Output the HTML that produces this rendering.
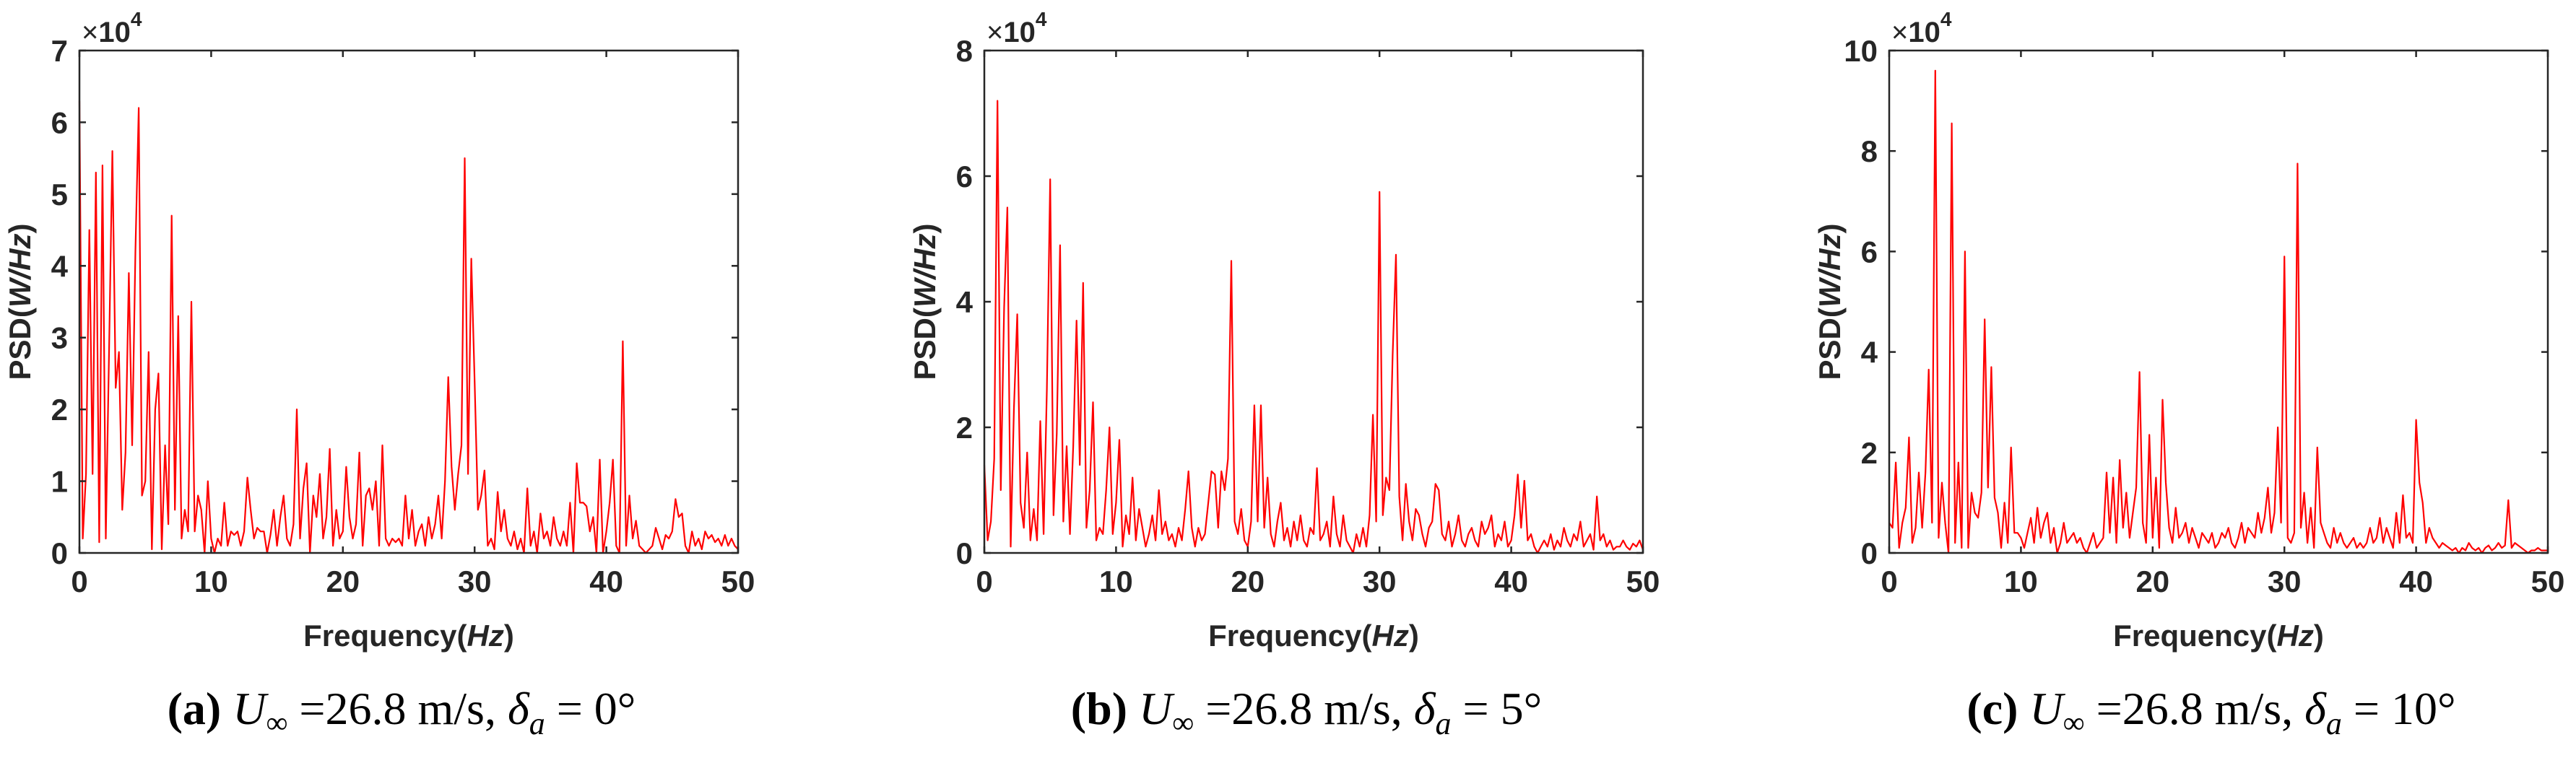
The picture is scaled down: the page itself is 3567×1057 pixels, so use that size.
<!DOCTYPE html>
<html><head><meta charset="utf-8"><style>
html,body{margin:0;padding:0;background:#fff;}
svg{display:block;}
.tk{font-family:"Liberation Sans",Arial,sans-serif;font-weight:bold;font-size:42px;fill:#262626;}
.cap{font-family:"Liberation Serif",serif;font-size:64px;fill:#000;}
</style></head><body>
<svg id="fig" width="3567" height="1057" viewBox="0 0 3567 1057" xmlns="http://www.w3.org/2000/svg"></svg>
<script>
// Data (units of 1e4 W/Hz), frequency step 0.25 Hz from 0 to 50 Hz
const freqStep = 0.25;
const seriesA = [6.3,0.2,1.1,4.5,1.1,5.3,0.15,5.4,0.2,2.8,5.6,2.3,2.8,0.6,1.4,3.9,1.5,4.2,6.2,0.8,1.0,2.8,0.05,2.0,2.5,0.05,1.5,0.4,4.7,0.6,3.3,0.2,0.6,0.3,3.5,0.3,0.8,0.6,0.0,1.0,
0.2,0.0,0.2,0.1,0.7,0.1,0.3,0.25,0.3,0.1,0.3,1.05,0.6,0.2,0.35,0.3,0.3,0.0,0.25,0.6,0.1,0.5,0.8,0.2,0.1,0.4,2.0,0.2,0.9,1.25,0.0,0.8,0.5,1.1,0.2,0.5,1.45,0.1,0.6,0.2,
0.3,1.2,0.5,0.2,0.4,1.4,0.1,0.8,0.9,0.6,1.0,0.1,1.5,0.2,0.1,0.2,0.15,0.2,0.1,0.8,0.2,0.6,0.1,0.3,0.4,0.1,0.5,0.2,0.4,0.8,0.2,1.0,2.45,1.2,0.6,1.1,1.5,5.5,1.1,4.1,
2.4,0.6,0.8,1.15,0.1,0.2,0.05,0.85,0.3,0.6,0.2,0.1,0.3,0.05,0.2,0.0,0.9,0.1,0.3,0.0,0.55,0.2,0.3,0.1,0.5,0.2,0.1,0.3,0.1,0.7,0.0,1.25,0.7,0.7,0.65,0.3,0.5,0.0,1.3,0.0,
0.3,0.7,1.3,0.1,0.0,2.95,0.1,0.8,0.2,0.45,0.1,0.05,0.0,0.05,0.1,0.35,0.2,0.05,0.25,0.2,0.3,0.75,0.5,0.55,0.1,0.0,0.3,0.1,0.2,0.05,0.3,0.2,0.25,0.15,0.2,0.1,0.25,0.1,0.2,0.1,0.05];
const seriesB = [1.4,0.2,0.5,1.5,7.2,1.0,3.9,5.5,0.1,2.3,3.8,0.8,0.4,1.6,0.2,0.7,0.2,2.1,0.3,2.6,5.95,0.6,1.9,4.9,0.5,1.7,0.3,1.7,3.7,1.4,4.3,0.4,1.0,2.4,0.2,0.4,0.3,1.0,2.0,0.3,
0.8,1.8,0.1,0.6,0.3,1.2,0.2,0.7,0.4,0.1,0.3,0.6,0.2,1.0,0.3,0.5,0.2,0.3,0.1,0.4,0.2,0.7,1.3,0.4,0.1,0.4,0.2,0.3,0.8,1.3,1.25,0.4,1.3,1.0,1.5,4.65,0.5,0.3,0.7,0.2,
0.1,0.5,2.35,0.5,2.35,0.4,1.2,0.3,0.1,0.5,0.8,0.2,0.4,0.1,0.5,0.2,0.6,0.2,0.1,0.4,0.3,1.35,0.2,0.3,0.5,0.1,0.9,0.3,0.1,0.6,0.2,0.1,0.0,0.3,0.1,0.4,0.1,0.6,2.2,0.5,
5.75,0.6,1.2,1.0,3.15,4.75,0.9,0.2,1.1,0.5,0.2,0.7,0.6,0.3,0.1,0.4,0.5,1.1,1.0,0.3,0.2,0.5,0.1,0.3,0.6,0.2,0.1,0.3,0.4,0.2,0.1,0.5,0.3,0.4,0.6,0.1,0.3,0.2,0.5,0.1,
0.2,0.6,1.25,0.4,1.15,0.2,0.3,0.1,0.0,0.1,0.2,0.1,0.3,0.05,0.2,0.1,0.4,0.2,0.1,0.3,0.2,0.5,0.1,0.2,0.3,0.05,0.9,0.2,0.3,0.1,0.2,0.05,0.1,0.1,0.2,0.1,0.05,0.15,0.1,0.2,0.05];
const seriesC = [0.6,0.5,1.8,0.1,0.6,0.9,2.3,0.2,0.5,1.6,0.5,1.6,3.65,0.6,9.6,0.3,1.4,0.6,0.0,8.55,0.2,1.8,0.1,6.0,0.1,1.2,0.8,0.7,1.2,4.65,1.3,3.7,1.1,0.8,0.1,1.0,0.2,2.1,0.4,0.4,
0.3,0.1,0.4,0.7,0.2,0.9,0.3,0.6,0.8,0.2,0.5,0.0,0.2,0.6,0.2,0.3,0.4,0.2,0.3,0.1,0.0,0.2,0.4,0.1,0.2,0.3,1.6,0.4,1.5,0.2,1.85,0.5,1.2,0.3,0.8,1.3,3.6,0.6,0.2,2.35,
0.3,1.5,0.1,3.05,1.4,0.5,0.2,0.9,0.3,0.4,0.6,0.2,0.5,0.3,0.1,0.4,0.3,0.2,0.4,0.1,0.2,0.4,0.3,0.5,0.2,0.1,0.3,0.6,0.2,0.5,0.4,0.3,0.8,0.4,0.7,1.3,0.4,0.8,2.5,0.6,
5.9,0.3,0.2,0.4,7.75,0.5,1.2,0.2,0.9,0.1,2.1,0.6,0.4,0.2,0.1,0.5,0.2,0.4,0.2,0.1,0.2,0.3,0.1,0.2,0.1,0.2,0.5,0.2,0.3,0.7,0.2,0.5,0.3,0.1,0.8,0.2,1.15,0.3,0.4,0.2,
2.65,1.4,1.0,0.2,0.5,0.3,0.2,0.1,0.2,0.15,0.1,0.05,0.1,0.0,0.1,0.05,0.2,0.1,0.05,0.1,0.0,0.1,0.15,0.05,0.1,0.2,0.1,0.15,1.05,0.1,0.2,0.15,0.1,0.05,0.0,0.05,0.05,0.1,0.05,0.05,0.05];
const xTicks = [0,10,20,30,40,50];
const yTicksA = [0,1,2,3,4,5,6,7];
const yTicksB = [0,2,4,6,8];
const yTicksC = [0,2,4,6,8,10];
const captionDeg = ["0","5","10"];
const panelLetters = ["a","b","c"];

const NS="http://www.w3.org/2000/svg";
const svg=document.getElementById('fig');
function mk(tag,attrs,parent){const e=document.createElementNS(NS,tag);for(const k in attrs)e.setAttribute(k,attrs[k]);(parent||svg).appendChild(e);return e;}

const panels=[
 {left:110,series:seriesA,yticks:yTicksA,ymax:7},
 {left:1363,series:seriesB,yticks:yTicksB,ymax:8},
 {left:2616,series:seriesC,yticks:yTicksC,ymax:10}
];
const W=912, TOP=70, BOT=766;

panels.forEach((p,pi)=>{
  const g=mk('g',{});
  
  
  const xs=f=>p.left+f/50*W;
  const ys=v=>BOT-v/p.ymax*(BOT-TOP);
  let d='';
  p.series.forEach((v,i)=>{d+=(i?'L':'M')+xs(i*freqStep).toFixed(1)+','+ys(v).toFixed(1);});
  const line=mk('path',{d:d,fill:'none',stroke:'#ff0000','stroke-width':2.2,'stroke-linejoin':'round'},g);
  
  
  const box=mk('rect',{x:p.left,y:TOP,width:W,height:BOT-TOP,fill:'none',stroke:'#262626','stroke-width':2.5},g);
  
  
  xTicks.forEach(t=>{
    const x=xs(t);
    mk('line',{x1:x,y1:BOT,x2:x,y2:BOT-9,stroke:'#262626','stroke-width':2.5},g);
    mk('line',{x1:x,y1:TOP,x2:x,y2:TOP+9,stroke:'#262626','stroke-width':2.5},g);
    const tx=mk('text',{x:x,y:820,'text-anchor':'middle',class:'tk'},g);
    tx.textContent=t;
    
    
  });
  p.yticks.forEach(t=>{
    const y=ys(t);
    mk('line',{x1:p.left,y1:y,x2:p.left+9,y2:y,stroke:'#262626','stroke-width':2.5},g);
    mk('line',{x1:p.left+W,y1:y,x2:p.left+W-9,y2:y,stroke:'#262626','stroke-width':2.5},g);
    const ty=mk('text',{x:p.left-16,y:y+15,'text-anchor':'end',class:'tk'},g);
    ty.textContent=t;
    
    
  });
  const ex=mk('text',{x:p.left+3,y:58,class:'tk','font-weight':'normal'},g);
  
  
  ex.innerHTML='<tspan font-size="40" font-weight="normal">×</tspan><tspan font-size="40">10</tspan><tspan font-size="28" dy="-22">4</tspan>';
  const xt=mk('text',{x:p.left+W/2,y:895,'text-anchor':'middle',class:'tk'},g);
  
  
  xt.innerHTML='Frequency(<tspan font-style="italic">Hz</tspan>)';
  const cy=(TOP+BOT)/2, cx=p.left-68;
  const yt=mk('text',{x:cx,y:cy,'text-anchor':'middle',class:'tk',transform:'rotate(-90 '+cx+' '+cy+')'},g);
  
  
  yt.innerHTML='PSD(<tspan font-style="italic">W/Hz</tspan>)';
  const cp=mk('text',{x:p.left+W/2-10,y:1003,'text-anchor':'middle',class:'cap'},g);
  
  
  cp.innerHTML='<tspan font-weight="bold">('+panelLetters[pi]+')</tspan> <tspan font-style="italic">U</tspan><tspan font-size="42" dy="12">∞</tspan><tspan dy="-12"> =26.8 m/s, </tspan><tspan font-style="italic">δ</tspan><tspan font-style="italic" font-size="44" dy="14">a</tspan><tspan dy="-14">  =  '+captionDeg[pi]+'°</tspan>';
});
</script>
</body></html>
